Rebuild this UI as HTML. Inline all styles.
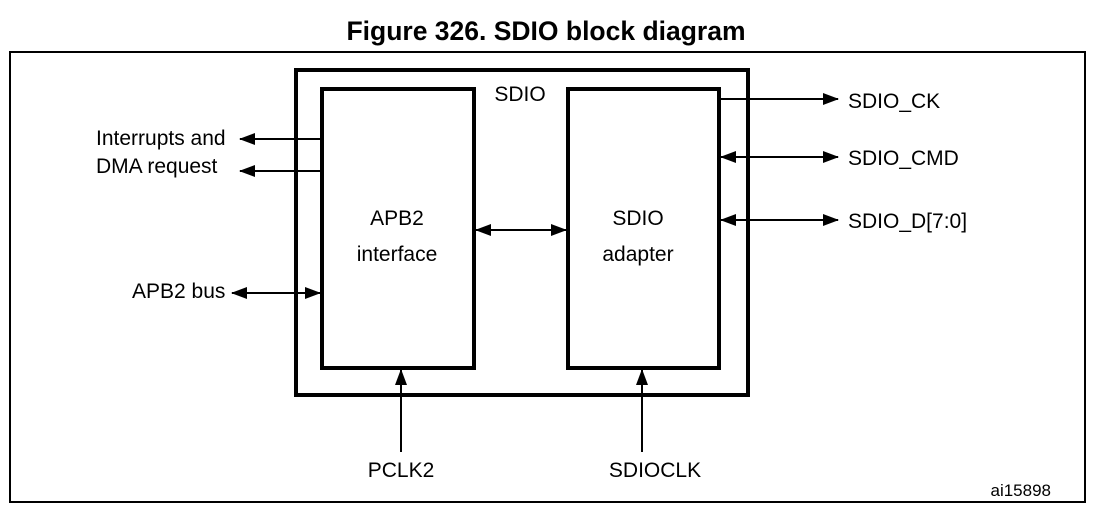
<!DOCTYPE html>
<html><head><style>body{margin:0;background:#fff}svg{display:block}</style></head>
<body>
<svg width="1096" height="507" viewBox="0 0 1096 507" xmlns="http://www.w3.org/2000/svg" font-family="Liberation Sans, Arial, sans-serif">
<defs>
<marker id="a" markerWidth="16" markerHeight="12" refX="15" refY="6" orient="auto-start-reverse" markerUnits="userSpaceOnUse"><path d="M0,0 L16,6 L0,12 Z" fill="#000"/></marker>
</defs>
<text x="546" y="40" text-anchor="middle" font-size="26.5" font-weight="bold">Figure 326. SDIO block diagram</text>
<rect x="10" y="52" width="1075" height="450" fill="none" stroke="#000" stroke-width="2"/>
<rect x="296" y="70" width="452" height="325" fill="none" stroke="#000" stroke-width="4"/>
<rect x="322" y="89" width="152" height="279" fill="none" stroke="#000" stroke-width="4"/>
<rect x="568" y="89" width="151" height="279" fill="none" stroke="#000" stroke-width="4"/>
<g font-size="21">
<text x="520" y="101" text-anchor="middle">SDIO</text>
<text x="397" y="225" text-anchor="middle">APB2</text>
<text x="397" y="261" text-anchor="middle">interface</text>
<text x="638" y="225" text-anchor="middle">SDIO</text>
<text x="638" y="261" text-anchor="middle">adapter</text>
</g>
<g stroke="#000" stroke-width="2" fill="none">
<line x1="320" y1="139" x2="240" y2="139" marker-end="url(#a)"/>
<line x1="320" y1="171" x2="240" y2="171" marker-end="url(#a)"/>
<line x1="232" y1="293" x2="320" y2="293" marker-start="url(#a)" marker-end="url(#a)"/>
<line x1="476" y1="230" x2="566" y2="230" marker-start="url(#a)" marker-end="url(#a)"/>
<line x1="721" y1="99" x2="838" y2="99" marker-end="url(#a)"/>
<line x1="721" y1="157" x2="838" y2="157" marker-start="url(#a)" marker-end="url(#a)"/>
<line x1="721" y1="220" x2="838" y2="220" marker-start="url(#a)" marker-end="url(#a)"/>
<line x1="401" y1="452" x2="401" y2="370" marker-end="url(#a)"/>
<line x1="642" y1="452" x2="642" y2="370" marker-end="url(#a)"/>
</g>
<g font-size="21">
<text x="96" y="145">Interrupts and</text>
<text x="96" y="173">DMA request</text>
<text x="132" y="298">APB2 bus</text>
<text x="848" y="108">SDIO_CK</text>
<text x="848" y="165">SDIO_CMD</text>
<text x="848" y="228">SDIO_D[7:0]</text>
<text x="401" y="477" text-anchor="middle">PCLK2</text>
<text x="655" y="477" text-anchor="middle">SDIOCLK</text>
</g>
<text x="1051" y="496" text-anchor="end" font-size="17">ai15898</text>
</svg>
</body></html>
